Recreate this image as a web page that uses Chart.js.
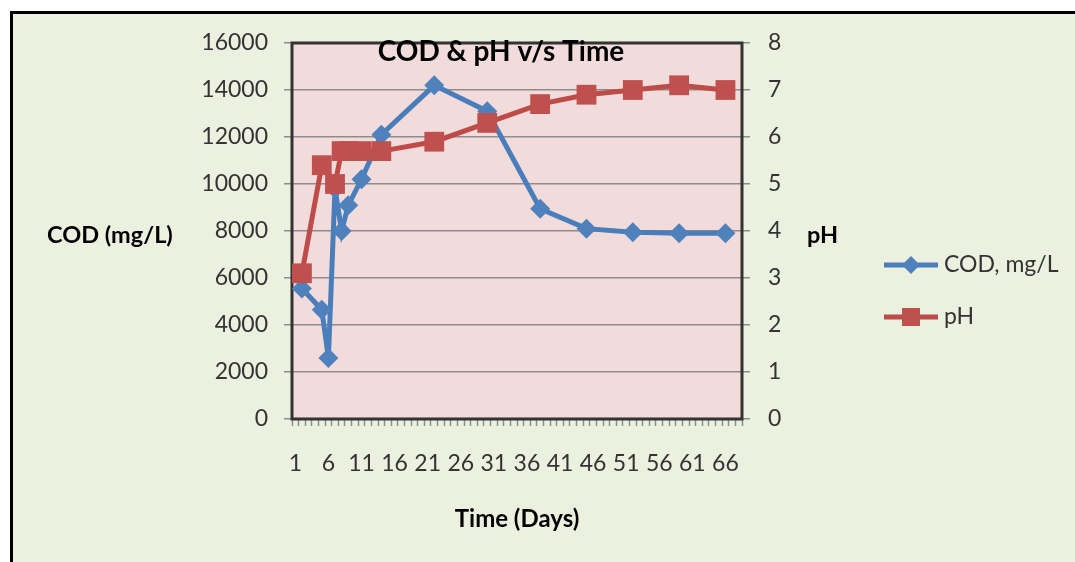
<!DOCTYPE html>
<html>
<head>
<meta charset="utf-8">
<script src="https://cdn.jsdelivr.net/npm/chart.js@4"></script>
<style>
  html, body { margin: 0; padding: 0; background: #fff; }
  #wrap { width: 1075px; height: 562px; position: relative; }
</style>
</head>
<body>
<div id="wrap"><canvas id="codChart"></canvas></div>
<script>
// Data
const days = [2, 5, 6, 7, 8, 9, 11, 14, 22, 30, 38, 45, 52, 59, 66];
const codValues = [5550, 4650, 2600, 9800, 8000, 9100, 10200, 12100, 14200, 13100, 8950, 8100, 7950, 7900, 7900];
const phValues = [3.1, 5.4, null, 5.0, 5.7, 5.7, 5.7, 5.7, 5.9, 6.3, 6.7, 6.9, 7.0, 7.1, 7.0];
const codTicks = [0, 2000, 4000, 6000, 8000, 10000, 12000, 14000, 16000];
const phTicks = [0, 1, 2, 3, 4, 5, 6, 7, 8];

const FONT = 'Lato, "Open Sans", sans-serif';
const BLUE = '#4A7EBB';
const RED = '#BE4B48';
const GRID = '#8c8c8c';
const TEXT = '#333';

// Frame, plot background and text labels
const decor = {
  id: 'decor',
  beforeDraw(chart) {
    const { ctx, chartArea: a } = chart;
    ctx.save();
    ctx.fillStyle = '#fff';
    ctx.fillRect(0, 0, chart.width, chart.height);
    ctx.fillStyle = '#EBF1DE';
    ctx.fillRect(11, 12, chart.width, chart.height);
    ctx.strokeStyle = '#000';
    ctx.lineWidth = 3;
    ctx.beginPath();
    ctx.moveTo(11.5, chart.height + 5);
    ctx.lineTo(11.5, 12.5);
    ctx.lineTo(chart.width + 5, 12.5);
    ctx.stroke();
    ctx.fillStyle = '#F2DCDB';
    ctx.fillRect(a.left, a.top, a.right - a.left, a.bottom - a.top);
    ctx.restore();
  },
  beforeDatasetsDraw(chart) {
    const { ctx, chartArea: a } = chart;
    ctx.save();
    ctx.strokeStyle = '#333';
    ctx.lineWidth = 3;
    ctx.strokeRect(a.left, a.top, a.right - a.left, a.bottom - a.top);
    ctx.restore();
  },
  afterDraw(chart) {
    const { ctx } = chart;
    ctx.save();
    ctx.fillStyle = '#000';
    ctx.textBaseline = 'middle';
    ctx.font = 'bold 28px ' + FONT;
    ctx.textAlign = 'center';
    ctx.fillText('COD & pH v/s Time', 501, 52);
    ctx.font = 'bold 24px ' + FONT;
    ctx.fillText('Time (Days)', 517, 519);
    ctx.textAlign = 'left';
    ctx.font = 'bold 23.5px ' + FONT;
    ctx.fillText('COD (mg/L)', 47, 235);
    ctx.fillText('pH', 807, 235);

    // legend
    const items = [
      { ds: chart.data.datasets[0], y: 265 },
      { ds: chart.data.datasets[1], y: 317 }
    ];
    items.forEach(it => {
      ctx.strokeStyle = it.ds.borderColor;
      ctx.lineWidth = 5;
      ctx.beginPath();
      ctx.moveTo(884, it.y);
      ctx.lineTo(938, it.y);
      ctx.stroke();
      ctx.fillStyle = it.ds.pointBackgroundColor;
      ctx.beginPath();
      if (it.ds.pointStyle === 'rectRot') {
        ctx.moveTo(911, it.y - 9);
        ctx.lineTo(920, it.y);
        ctx.lineTo(911, it.y + 9);
        ctx.lineTo(902, it.y);
        ctx.closePath();
      } else {
        ctx.rect(902, it.y - 9, 18, 18);
      }
      ctx.fill();
      ctx.fillStyle = TEXT;
      ctx.font = '23px ' + FONT;
      ctx.textAlign = 'left';
      ctx.fillText(it.ds.label, 944, it.y);
    });
    ctx.restore();
  }
};

const ctx = document.getElementById('codChart').getContext('2d');

const codChart = new Chart(ctx, {
  type: 'line',
  data: {
    datasets: [{
      label: 'COD, mg/L',
      data: days.map((d, i) => ({ x: d, y: codValues[i] })),
      yAxisID: 'y',
      borderColor: BLUE,
      backgroundColor: '#4F81BD',
      pointBackgroundColor: '#4F81BD',
      pointBorderColor: '#4F81BD',
      borderWidth: 5,
      pointStyle: 'rectRot',
      pointRadius: 10,
      pointBorderWidth: 0,
      tension: 0,
      order: 1
    }, {
      label: 'pH',
      data: days.map((d, i) => ({ x: d, y: phValues[i] })),
      yAxisID: 'y2',
      borderColor: RED,
      backgroundColor: '#C0504D',
      pointBackgroundColor: '#C0504D',
      pointBorderColor: '#C0504D',
      borderWidth: 5,
      pointStyle: 'rect',
      pointRadius: 14,
      pointBorderWidth: 0,
      tension: 0,
      spanGaps: true,
      order: 0
    }]
  },
  options: {
    responsive: true,
    maintainAspectRatio: false,
    animation: false,
    layout: { padding: { top: 43, left: 0, right: 0, bottom: 0 } },
    plugins: {
      legend: { display: false },
      title: { display: false },
      tooltip: { enabled: false }
    },
    scales: {
      x: {
        type: 'linear',
        min: 0.5,
        max: 68.5,
        afterBuildTicks: scale => {
          const t = [];
          for (let v = 0.5; v <= 68.5; v += 0.5) t.push({ value: v });
          scale.ticks = t;
        },
        afterFit: scale => { scale.height = 143; },
        border: { display: false },
        grid: {
          drawOnChartArea: false,
          drawTicks: true,
          tickLength: 7,
          tickWidth: 1.5,
          tickColor: c => (c.tick && Number.isInteger(c.tick.value)) ? 'rgba(0,0,0,0)' : GRID
        },
        ticks: {
          autoSkip: false,
          maxRotation: 0,
          padding: 24,
          color: TEXT,
          font: { family: FONT, size: 23 },
          callback: v => (Number.isInteger(v) && (v - 1) % 5 === 0) ? String(v) : ''
        }
      },
      y: {
        position: 'left',
        min: 0,
        max: 16000,
        afterBuildTicks: scale => { scale.ticks = codTicks.map(v => ({ value: v })); },
        afterFit: scale => { scale.width = 292; },
        border: { display: false },
        grid: { color: GRID, lineWidth: 1.5, tickLength: 8, tickColor: GRID },
        ticks: {
          padding: 16,
          color: TEXT,
          font: { family: FONT, size: 23 },
          callback: v => String(v)
        }
      },
      y2: {
        position: 'right',
        min: 0,
        max: 8,
        afterBuildTicks: scale => { scale.ticks = phTicks.map(v => ({ value: v })); },
        afterFit: scale => { scale.width = 333; },
        border: { display: false },
        grid: { drawOnChartArea: false, tickLength: 8, tickColor: GRID, lineWidth: 1.5 },
        ticks: {
          padding: 18,
          color: TEXT,
          font: { family: FONT, size: 23 },
          callback: v => String(v)
        }
      }
    }
  },
  plugins: [decor]
});
</script>
</body>
</html>
